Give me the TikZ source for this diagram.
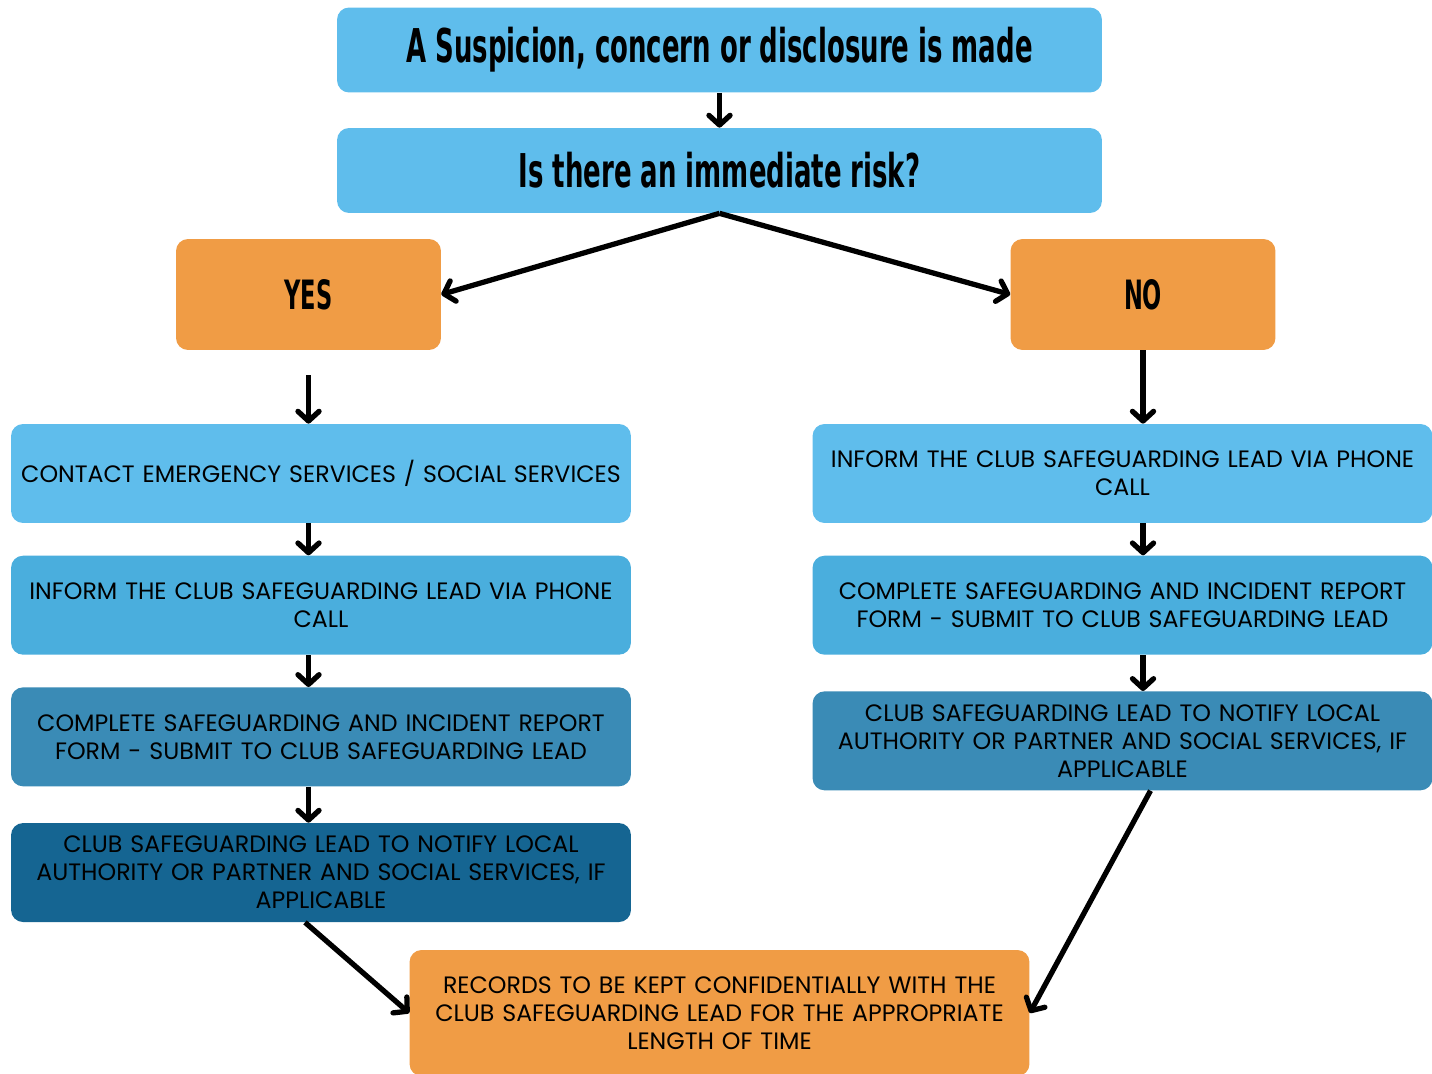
\documentclass[tikz,border=0pt]{standalone}
\usepackage{fontspec}
\setmainfont{Poppins}
\newfontfamily\headfont[FakeStretch=0.62]{DejaVu Sans Condensed Bold}
\usepackage{tikz}
\usetikzlibrary{arrows.meta, positioning}

\definecolor{skyblue}{HTML}{5FBDEC}
\definecolor{midblue}{HTML}{4AAEDD}
\definecolor{deepblue}{HTML}{3A8BB6}
\definecolor{navyblue}{HTML}{156592}
\definecolor{flagorange}{HTML}{F09C45}

\begin{document}
\begin{tikzpicture}[x=0.02cm, y=-0.02cm]
            \tikzset{
                head_box/.style={fill=skyblue, rounded corners=0.24cm, minimum width=15.3cm, minimum height=1.7cm, font=\headfont\fontsize{26.5}{30}\selectfont},
                answer_box/.style={fill=flagorange, rounded corners=0.24cm, minimum width=5.3cm, minimum height=2.22cm, font=\headfont\fontsize{23}{28}\selectfont},
                step_box/.style={rounded corners=0.24cm, minimum width=12.4cm, minimum height=1.98cm, text width=12.2cm, align=center, inner sep=0pt, font=\fontsize{13.5}{16}\selectfont},
                flow/.style={-{Straight Barb[round, length=5.5pt, width=12pt]}, line width=3pt}
            }
            \useasboundingbox (0,0) rectangle (1432,1074);
            \node[head_box] (suspicion) at (719.5,50) {A Suspicion, concern or disclosure is made};
            \node[head_box] (risk) at (719.5,170.5) {Is there an immediate risk?};
            \node[answer_box] (yes) at (308.5,294.5) {YES};
            \node[answer_box] (no) at (1143,294.5) {NO};
            % yes branch
            \node[step_box, fill=skyblue] (emergency) at (321,473.5) {CONTACT EMERGENCY SERVICES / SOCIAL SERVICES};
            \node[step_box, fill=midblue, below=0.64cm of emergency] (informL) {INFORM THE CLUB SAFEGUARDING LEAD VIA PHONE\\CALL};
            \node[step_box, fill=deepblue, below=0.64cm of informL] (reportL) {COMPLETE SAFEGUARDING AND INCIDENT REPORT\\FORM - SUBMIT TO CLUB SAFEGUARDING LEAD};
            \node[step_box, fill=navyblue, below=0.72cm of reportL] (notifyL) {CLUB SAFEGUARDING LEAD TO NOTIFY LOCAL\\AUTHORITY OR PARTNER AND SOCIAL SERVICES, IF\\APPLICABLE};
            % no branch
            \node[step_box, fill=skyblue] (informR) at (1122.5,473.5) {INFORM THE CLUB SAFEGUARDING LEAD VIA PHONE\\CALL};
            \node[step_box, fill=midblue, below=0.64cm of informR] (reportR) {COMPLETE SAFEGUARDING AND INCIDENT REPORT\\FORM - SUBMIT TO CLUB SAFEGUARDING LEAD};
            \node[step_box, fill=deepblue, below=0.72cm of reportR] (notifyR) {CLUB SAFEGUARDING LEAD TO NOTIFY LOCAL\\AUTHORITY OR PARTNER AND SOCIAL SERVICES, IF\\APPLICABLE};
            \node[step_box, fill=flagorange, minimum height=2.52cm] (records) at (719.5,1013) {RECORDS TO BE KEPT CONFIDENTIALLY WITH THE\\CLUB SAFEGUARDING LEAD FOR THE APPROPRIATE\\LENGTH OF TIME};
            \path (suspicion) edge[flow] (risk);
            \path (risk.south) edge[flow] (yes.east);
            \path (risk.south) edge[flow] (no.west);
            \path (yes.south) edge[flow, shorten <=0.5cm] (emergency.north -| yes);
            \path (emergency.south -| yes) edge[flow] (informL.north -| yes);
            \path (informL.south -| yes) edge[flow] (reportL.north -| yes);
            \path (reportL.south -| yes) edge[flow] (notifyL.north -| yes);
            \path (no.south) edge[flow] (informR.north -| no);
            \path (informR.south -| no) edge[flow] (reportR.north -| no);
            \path (reportR.south -| no) edge[flow] (notifyR.north -| no);
            \path ([xshift=-0.32cm]notifyL.south) edge[flow] (records.west);
            \path ([xshift=0.56cm]notifyR.south) edge[flow] (records.east);
        \end{tikzpicture}
\end{document}
